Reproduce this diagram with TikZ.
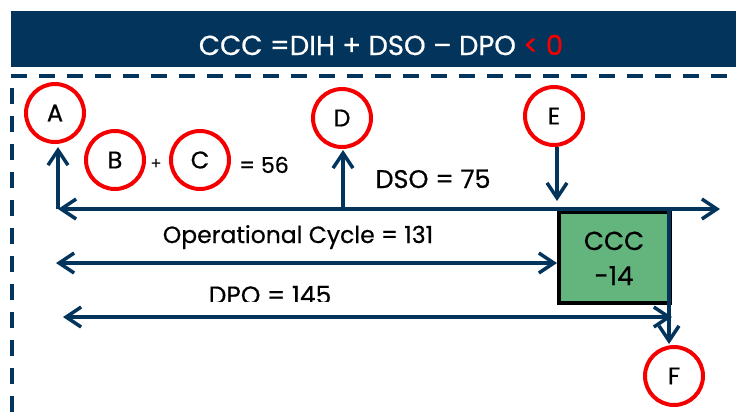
\documentclass[tikz,border=0pt]{standalone}
\usepackage{fontspec}
\setmainfont{Poppins}[FakeBold=0.6]
\usetikzlibrary{arrows.meta}
\definecolor{navy}{RGB}{3,52,92}
\definecolor{cred}{RGB}{245,0,0}
\definecolor{cgreen}{RGB}{100,180,125}
\tikzset{
  mark circle/.style={circle, draw=cred, line width=4pt, minimum size=58pt, inner sep=0pt, font=\fontsize{24}{24}\selectfont},
  conn/.style={draw=navy, line width=3.5pt},
  tipped/.style={-{Straight Barb[length=15pt,width=20pt]}},
  dtipped/.style={{Straight Barb[length=15pt,width=20pt]}-{Straight Barb[length=15pt,width=20pt]}},
  lbl/.style={font=\fontsize{23.5}{23.5}\selectfont, inner sep=0pt},
}
\begin{document}
\begin{tikzpicture}[x=1pt,y=-1pt]
\useasboundingbox (0,0) rectangle (736,416);
% header
\fill[navy] (11,11) rectangle (740,67);
\node[text=white, font=\fontsize{27.5}{27.5}\selectfont] (title) at (381,45) {CCC =DIH + DSO – DPO \textcolor{cred}{< 0}};
% dashed frame
\draw[navy, line width=4pt, dash pattern=on 16pt off 12pt] (11,76) -- (740,76);
\draw[navy, line width=4pt, dash pattern=on 16pt off 12pt] (11.5,88) -- (11.5,420);
% box
\node[draw=black, fill=cgreen, line width=3.5pt, minimum width=111pt, minimum height=91pt, inner sep=0pt, anchor=north west] (box) at (557,210) {};
\node[font=\fontsize{26}{26}\selectfont, anchor=base, inner sep=0pt] (ccc) at (614,250) {CCC};
\node[font=\fontsize{26}{26}\selectfont, anchor=base, inner sep=0pt] (m14) at (614,285) {-14};
% circles
\node[mark circle] (A) at (55,113) {A};
\node[mark circle] (B) at (115,160) {B};
\node[mark circle] (C) at (200,160) {C};
\node[mark circle] (D) at (342,118) {D};
\node[mark circle] (E) at (554,116) {E};
\node[mark circle] (F) at (674,376) {F};
\node[font=\fontsize{16}{16}\selectfont] (plus) at (156,164) {+};
\node[font=\fontsize{22}{22}\selectfont, inner sep=0pt, anchor=base west] (eq) at (239,173) {= 56};
% coordinates
\coordinate (l0) at (58,209);
\coordinate (l1) at (720,209);
\coordinate (dfoot) at (343,209);
\coordinate (etip) at (557,201);
\coordinate (ebase) at (557,147);
\coordinate (rtop) at (669,209);
\coordinate (ftip) at (669,344);
\coordinate (o0) at (56,263);
\coordinate (o1) at (557,263);
\coordinate (p0) at (63,317);
\coordinate (p1) at (672,317);
% connectors
\draw[conn, tipped] (rtop) -- (ftip);
\draw[conn, dtipped] (l0) -- (l1);
\draw[conn, tipped] (l0) -- (58,147);
\draw[conn, tipped] (dfoot) -- (343,150);
\draw[conn, tipped] (ebase) -- (etip);
\draw[conn, dtipped] (o0) -- (o1);
\draw[conn, dtipped] (p0) -- (p1);
% labels
\node[lbl, anchor=base, font=\fontsize{25.5}{25.5}\selectfont] (dso) at (433,188) {DSO = 75};
\node[lbl, anchor=base] (op) at (298,243) {Operational Cycle = 131};
\begin{scope}
\clip (150,270) rectangle (400,301.5);
\node[lbl, anchor=base, font=\fontsize{25}{25}\selectfont] (dpo) at (270,304) {DPO = 145};
\end{scope}
\end{tikzpicture}
\end{document}
